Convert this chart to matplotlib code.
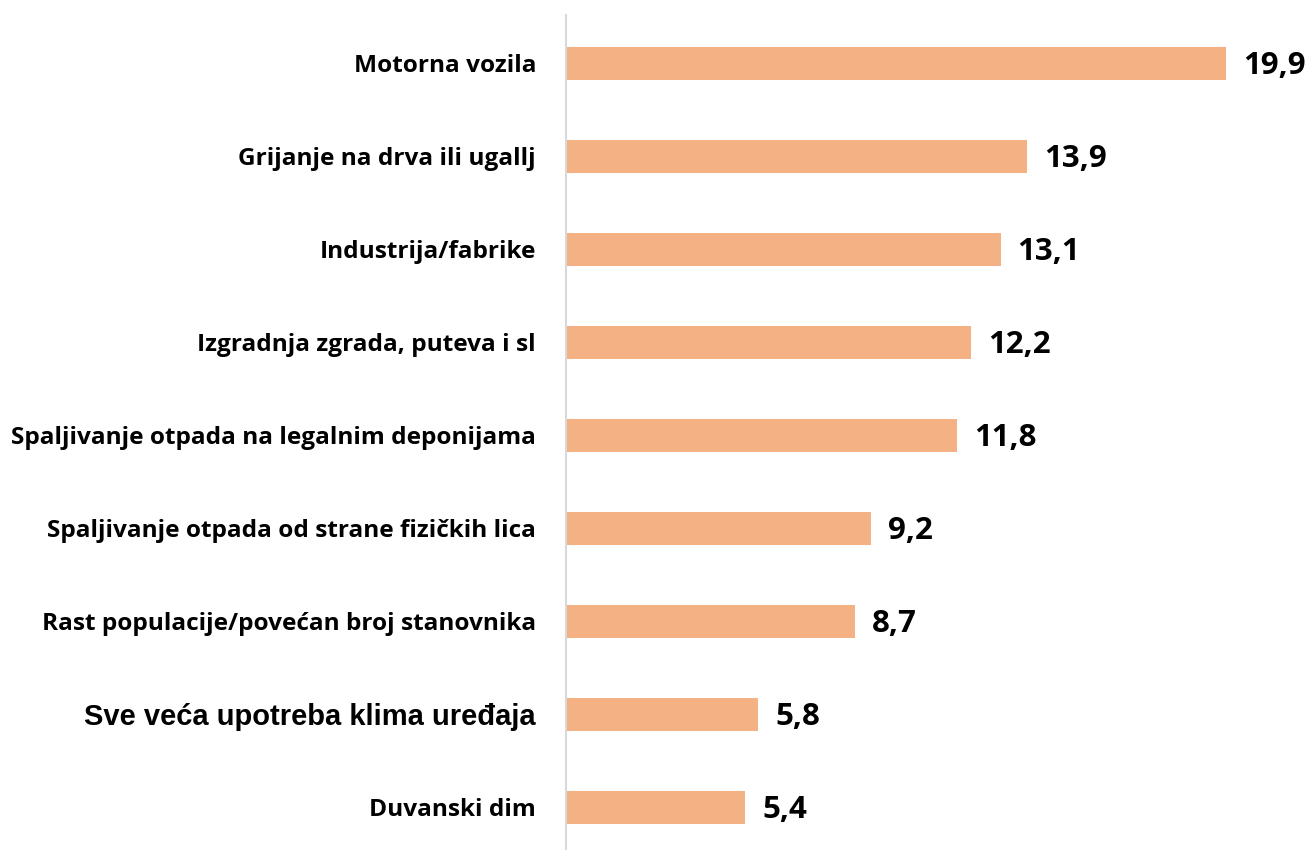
import matplotlib
matplotlib.use("Agg")
import matplotlib.pyplot as plt

categories = [
    "Motorna vozila",
    "Grijanje na drva ili ugallj",
    "Industrija/fabrike",
    "Izgradnja zgrada, puteva i sl",
    "Spaljivanje otpada na legalnim deponijama",
    "Spaljivanje otpada od strane fizičkih lica",
    "Rast populacije/povećan broj stanovnika",
    "Sve veća upotreba klima uređaja",
    "Duvanski dim",
]
values = [19.9, 13.9, 13.1, 12.2, 11.8, 9.2, 8.7, 5.8, 5.4]
value_labels = ["19,9", "13,9", "13,1", "12,2", "11,8", "9,2", "8,7", "5,8", "5,4"]

W, H = 1312, 850
fig = plt.figure(figsize=(W / 100, H / 100), dpi=100)
ax = fig.add_axes([566 / W, 0, (W - 566) / W, 835 / H])

pos = list(range(len(categories)))
ax.barh(pos, values, height=0.355, color="#F4B183", zorder=2)

ax.set_ylim(8.46, -0.52)
ax.set_xlim(0, (W - 566) / 33.17)

for s in ["top", "right", "bottom"]:
    ax.spines[s].set_visible(False)
ax.spines["left"].set_color("#D9D9D9")
ax.spines["left"].set_linewidth(1.5)
ax.set_xticks([])
ax.set_yticks(pos)
ax.set_yticklabels(categories)
ax.tick_params(axis="y", length=0, pad=21.6)
for i, t in enumerate(ax.get_yticklabels()):
    if i == 7:
        t.set_fontfamily("Liberation Sans")
        t.set_fontsize(21)
        t.set_fontweight("bold")
    else:
        t.set_fontfamily("Open Sans")
        t.set_fontsize(17.6)
        t.set_fontweight("bold")

for p, v, lab in zip(pos, values, value_labels):
    ax.annotate(lab, xy=(v, p), xytext=(17, -3), textcoords="offset pixels",
                ha="left", va="center", fontsize=22.5, fontweight="bold",
                fontfamily="Open Sans", color="black")

fig.savefig("out.png", dpi=100, facecolor="white")
